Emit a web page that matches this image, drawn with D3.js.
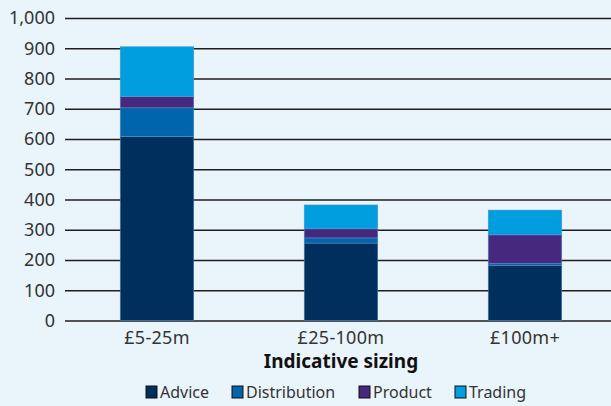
<!DOCTYPE html>
<html>
<head>
<meta charset="utf-8">
<script src="https://cdn.jsdelivr.net/npm/d3@7"></script>
<style>
  body { margin: 0; background: #eaf4fb; }
  svg { display: block; font-family: "Noto Sans", sans-serif; }
  .grid line { stroke: #1e1e1e; stroke-width: 1.3; }
  .grid path { display: none; }
</style>
</head>
<body>
<svg class="chart" width="611" height="406"></svg>
<script>
const categories = ['£5-25m', '£25-100m', '£100m+'];
const seriesNames = ['Advice', 'Distribution', 'Product', 'Trading'];
const advice = [608, 256, 181];
const distribution = [95, 17, 7];
const product = [37, 30, 95];
const trading = [165, 79, 82];
const yTicks = [0, 100, 200, 300, 400, 500, 600, 700, 800, 900, 1000];
const colors = ['#012f5d', '#0065ab', '#47287f', '#009ddf'];

// build rows for the stack
const rows = categories.map((c, i) => ({
    name: c,
    Advice: advice[i],
    Distribution: distribution[i],
    Product: product[i],
    Trading: trading[i]
}));

const svg = d3.select('svg.chart');
const plotLeft = 65, plotRight = 617, plotTop = 18, plotBottom = 320.5;

const yScale = d3.scaleLinear()
    .domain([0, 1000])
    .range([plotBottom, plotTop]);

const xScale = d3.scaleBand()
    .domain(categories)
    .range([plotLeft, plotRight])
    .paddingInner(0.6)
    .paddingOuter(0.3);

// horizontal grid lines
svg.append('g')
    .attr('class', 'grid')
    .attr('transform', `translate(${plotLeft}, 0)`)
    .call(d3.axisLeft(yScale)
        .tickValues(yTicks)
        .tickSize(-(plotRight - plotLeft))
        .tickFormat(''));

// y labels
svg.append('g')
    .selectAll('text')
    .data(yTicks)
    .enter()
    .append('text')
    .attr('x', 55)
    .attr('y', (d) => yScale(d))
    .attr('dy', '0.35em')
    .attr('text-anchor', 'end')
    .attr('font-size', 18)
    .attr('fill', '#333')
    .text(d3.format(','));

// stacked bars
const stack = d3.stack().keys(seriesNames)(rows);

svg.append('g')
    .selectAll('g')
    .data(stack)
    .enter()
    .append('g')
    .attr('fill', (s, i) => colors[i])
    .selectAll('rect')
    .data((s) => s)
    .enter()
    .append('rect')
    .attr('x', (d) => xScale(d.data.name))
    .attr('y', (d) => yScale(d[1]))
    .attr('width', xScale.bandwidth())
    .attr('height', (d) => yScale(d[0]) - yScale(d[1]))
    .attr('stroke', '#5d93c6')
    .attr('stroke-width', 0.5);

// x labels
svg.append('g')
    .selectAll('text')
    .data(categories)
    .enter()
    .append('text')
    .attr('x', (c) => xScale(c) + xScale.bandwidth() / 2)
    .attr('y', 338)
    .attr('dy', '0.35em')
    .attr('text-anchor', 'middle')
    .attr('font-size', 18)
    .attr('letter-spacing', 0.3)
    .attr('fill', '#333')
    .text((c) => c);

// axis title
svg.append('text')
    .attr('x', 341)
    .attr('y', 361)
    .attr('dy', '0.35em')
    .attr('text-anchor', 'middle')
    .attr('font-size', 19)
    .attr('font-weight', 'bold')
    .attr('fill', '#111')
    .text('Indicative sizing');

// legend
const legendX = [146, 232, 359, 455];
const legend = svg.append('g')
    .selectAll('g')
    .data(seriesNames)
    .enter()
    .append('g')
    .attr('transform', (s, i) => `translate(${legendX[i]}, 386)`);

legend.append('rect')
    .attr('width', 11)
    .attr('height', 12)
    .attr('fill', (s, i) => colors[i])
    .attr('stroke', '#111')
    .attr('stroke-width', 1);

legend.append('text')
    .attr('x', 14)
    .attr('y', 6)
    .attr('dy', '0.35em')
    .attr('font-size', 16)
    .attr('fill', '#333')
    .text((s) => s);
</script>
</body>
</html>
